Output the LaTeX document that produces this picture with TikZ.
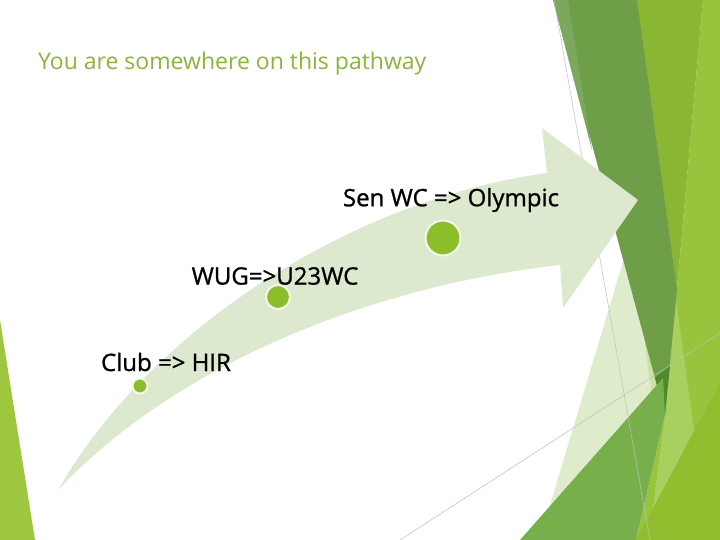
\documentclass[tikz,border=0pt]{standalone}
\usepackage{fontspec}
\setmainfont{Open Sans}
\newfontfamily\labelfont[FakeBold=1]{Open Sans}
\usetikzlibrary{positioning}
\definecolor{titlegreen}{HTML}{8CB43C}
\definecolor{arrowfill}{HTML}{DCE9CF}
\definecolor{dotgreen}{HTML}{8CBD2B}
\definecolor{dotring}{HTML}{F4F8EA}
\definecolor{facetdark}{HTML}{6E9E47}
\definecolor{facetedge}{HTML}{7BA85C}
\definecolor{facetdeep}{HTML}{4E8A2A}
\definecolor{facetmid}{HTML}{77B04A}
\definecolor{facetolive}{HTML}{8AB733}
\definecolor{facetlime}{HTML}{97C43C}
\definecolor{facetlight}{HTML}{A8D05F}
\definecolor{facetyellow}{HTML}{8FBE2F}
\definecolor{facetpale}{HTML}{DEECCB}
\definecolor{facetpaler}{HTML}{CBE2A2}
\definecolor{facetleft}{HTML}{9DC73F}
\tikzset{
  dot/.style={circle, fill=dotgreen, draw=dotring, line width=2pt, inner sep=0pt},
  steplabel/.style={font=\labelfont\fontsize{24}{28}\selectfont, text=black, inner sep=0pt},
  hairline/.style={draw=black!25, line width=0.5pt}
}
\begin{document}
\begin{tikzpicture}[x=1pt, y=-1pt]
        \useasboundingbox (0,0) rectangle (720,540);
        \fill[white] (0,0) rectangle (720,540);

        % Facets on the right
        \fill[facetlime]   (703,0) -- (720,0) -- (720,540) -- (636,540) -- (665,415) -- (676,300) -- cycle;
        \fill[facetolive]  (637,0) -- (703,0) -- (676,300) -- (665,415) -- cycle;
        \fill[facetlight]  (676,300) -- (694,430) -- (652,515) -- (665,415) -- cycle;
        \fill[facetyellow] (636,540) -- (720,383) -- (720,540) -- cycle;
        \fill[facetpale]   (631,235) -- (668,390) -- (548,512) -- cycle;
        \fill[facetpaler]  (631,235) -- (645,252) -- (668,392) -- (652,398) -- cycle;
        \fill[facetdark]   (553,0) -- (637,0) -- (677,290) -- (665,415) -- cycle;
        \fill[facetedge]   (553,0) -- (568,0) -- (592,150) -- cycle;
        \fill[facetdeep]   (655,378) -- (670,366) -- (665,415) -- cycle;
        \fill[facetmid]    (520,540) -- (663,378) -- (665,415) -- (636,540) -- cycle;
        \draw[hairline]    (554,0) -- (650,540);
        \draw[hairline]    (400,540) -- (720,333);

        % Facet on the left
        \fill[facetleft]   (0,320) -- (35,540) -- (0,540) -- cycle;

        % Title
        \node[anchor=west, text=titlegreen, font=\fontsize{23}{27}\selectfont, inner sep=0pt] (title) at (38,64) {You are somewhere on this pathway};

        % Curved arrow
        \fill[arrowfill] (58,490) .. controls (150,330) and (350,200) .. (547,173)
                         -- (542,128) -- (638,200) -- (563,308) -- (560,265)
                         .. controls (380,285) and (180,360) .. (58,490) -- cycle;

        % Steps
        \node[dot, minimum size=15pt] (club) at (140,386) {};
        \node[dot, minimum size=24pt] (wug)  at (278,297) {};
        \node[dot, minimum size=35pt] (sen)  at (443,238) {};

        % Labels
        \node[steplabel] (clublabel) at (166,362) {Club => HIR};
        \node[steplabel] (wuglabel)  at (275,276) {WUG=>U23WC};
        \node[steplabel] (senlabel)  at (451,200) {Sen WC => Olympic};
\end{tikzpicture}
\end{document}
